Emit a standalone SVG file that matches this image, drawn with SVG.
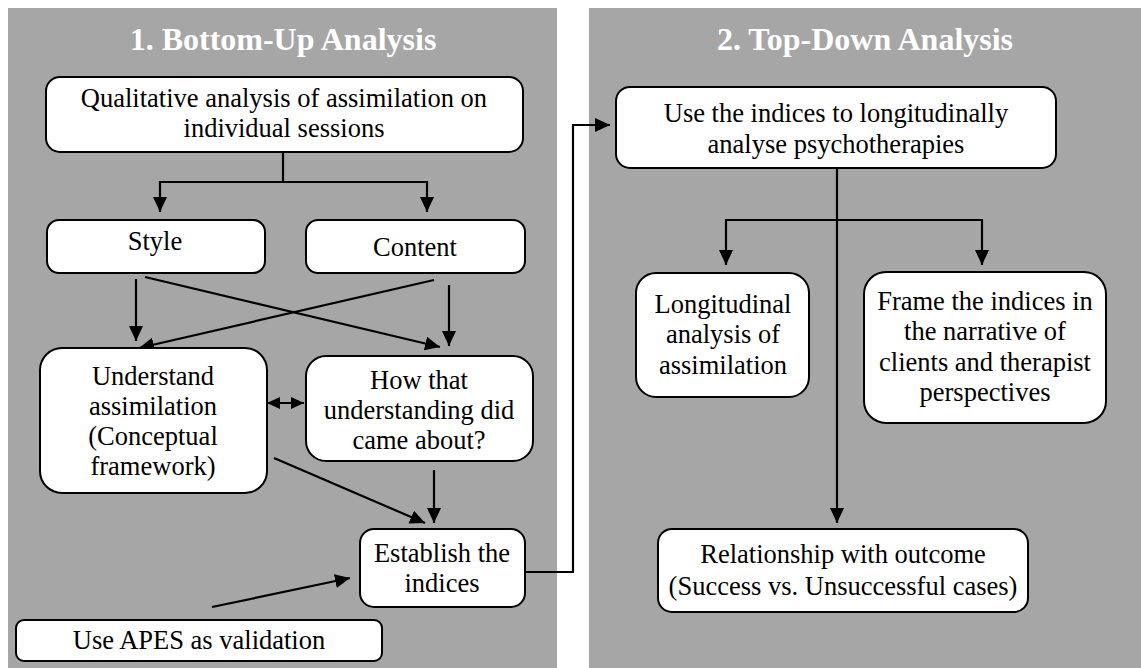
<svg xmlns="http://www.w3.org/2000/svg" width="1141" height="668" viewBox="0 0 1141 668">
  <style>
    .panel { fill: #a6a6a6; }
    .title { font-family: "Liberation Serif", "Times New Roman", serif; font-weight: bold; font-size: 32px; fill: #ffffff; text-anchor: middle; }
    .box { fill: #ffffff; stroke: #000000; stroke-width: 2; }
    .lbl { font-family: "Liberation Serif", "Times New Roman", serif; font-size: 26.5px; fill: #000000; text-anchor: middle; }
    .con { fill: none; stroke: #000000; stroke-width: 2.2; }
  </style>
  <defs>
    <marker id="arr" markerUnits="userSpaceOnUse" markerWidth="15" markerHeight="14" viewBox="0 0 15 14" refX="15" refY="7" orient="auto">
      <path d="M0,0 L15,7 L0,14 z" fill="#000000"/>
    </marker>
    <marker id="arrS" markerUnits="userSpaceOnUse" markerWidth="13" markerHeight="12" viewBox="0 0 13 12" refX="13" refY="6" orient="auto-start-reverse">
      <path d="M0,0 L13,6 L0,12 z" fill="#000000"/>
    </marker>
  </defs>

  <g id="panels">
    <rect class="panel" x="8" y="8" width="549" height="660"/>
    <rect class="panel" x="589" y="8" width="552" height="660"/>
    <text class="title" x="283" y="50">1. Bottom-Up Analysis</text>
    <text class="title" x="865" y="50">2. Top-Down Analysis</text>
  </g>

  <g id="connectors">
    <polyline class="con" points="283,152 283,182"/>
    <polyline class="con" points="160,182 427,182"/>
    <line class="con" x1="160" y1="181" x2="160" y2="212" marker-end="url(#arr)"/>
    <line class="con" x1="427" y1="181" x2="427" y2="212" marker-end="url(#arr)"/>
    <line class="con" x1="136" y1="279" x2="136" y2="341" marker-end="url(#arr)"/>
    <line class="con" x1="145" y1="277" x2="440" y2="347" marker-end="url(#arr)"/>
    <line class="con" x1="434" y1="280" x2="139" y2="348" marker-end="url(#arr)"/>
    <line class="con" x1="449" y1="285" x2="449" y2="346" marker-end="url(#arr)"/>
    <line class="con" x1="267" y1="403" x2="304" y2="403" marker-start="url(#arrS)" marker-end="url(#arrS)"/>
    <line class="con" x1="274" y1="458" x2="425" y2="523" marker-end="url(#arr)"/>
    <line class="con" x1="434" y1="470" x2="434" y2="523" marker-end="url(#arr)"/>
    <line class="con" x1="212" y1="607" x2="350" y2="578" marker-end="url(#arr)"/>
    <polyline class="con" points="525,572 573,572 573,125 610,125" marker-end="url(#arr)"/>
    <line class="con" x1="837" y1="168" x2="837" y2="523" marker-end="url(#arr)"/>
    <polyline class="con" points="726,220 982,220"/>
    <line class="con" x1="726" y1="219" x2="726" y2="265" marker-end="url(#arr)"/>
    <line class="con" x1="982" y1="219" x2="982" y2="265" marker-end="url(#arr)"/>
  </g>

  <g id="qualitative">
    <rect class="box" x="46" y="77" width="477" height="75" rx="14"/>
    <text class="lbl" x="284" y="107">Qualitative analysis of assimilation on</text>
    <text class="lbl" x="284" y="137">individual sessions</text>
  </g>
  <g id="style">
    <rect class="box" x="47" y="220" width="218" height="53" rx="12"/>
    <text class="lbl" x="155" y="250">Style</text>
  </g>
  <g id="content">
    <rect class="box" x="306" y="220" width="219" height="53" rx="12"/>
    <text class="lbl" x="415" y="256">Content</text>
  </g>
  <g id="understand">
    <rect class="box" x="40" y="348" width="227" height="145" rx="22"/>
    <text class="lbl" x="153" y="385">Understand</text>
    <text class="lbl" x="153" y="415">assimilation</text>
    <text class="lbl" x="153" y="445">(Conceptual</text>
    <text class="lbl" x="153" y="475">framework)</text>
  </g>
  <g id="how">
    <rect class="box" x="306" y="356" width="227" height="105" rx="20"/>
    <text class="lbl" x="419" y="389">How that</text>
    <text class="lbl" x="419" y="419">understanding did</text>
    <text class="lbl" x="419" y="449">came about?</text>
  </g>
  <g id="establish">
    <rect class="box" x="360" y="529" width="165" height="78" rx="14"/>
    <text class="lbl" x="442" y="562">Establish the</text>
    <text class="lbl" x="442" y="592">indices</text>
  </g>
  <g id="apes">
    <rect class="box" x="16" y="620" width="366" height="41" rx="8"/>
    <text class="lbl" x="199" y="649">Use APES as validation</text>
  </g>
  <g id="use-indices">
    <rect class="box" x="616" y="87" width="440" height="81" rx="14"/>
    <text class="lbl" x="836" y="122">Use the indices to longitudinally</text>
    <text class="lbl" x="836" y="153">analyse psychotherapies</text>
  </g>
  <g id="longitudinal">
    <rect class="box" x="636" y="273" width="173" height="124" rx="20"/>
    <text class="lbl" x="723" y="313">Longitudinal</text>
    <text class="lbl" x="723" y="343">analysis of</text>
    <text class="lbl" x="723" y="374">assimilation</text>
  </g>
  <g id="frame">
    <rect class="box" x="864" y="272" width="242" height="151" rx="22"/>
    <text class="lbl" x="985" y="310">Frame the indices in</text>
    <text class="lbl" x="985" y="340">the narrative of</text>
    <text class="lbl" x="985" y="371">clients and therapist</text>
    <text class="lbl" x="985" y="401">perspectives</text>
  </g>
  <g id="relationship">
    <rect class="box" x="658" y="529" width="370" height="83" rx="14"/>
    <text class="lbl" x="843" y="563">Relationship with outcome</text>
    <text class="lbl" x="843" y="595">(Success vs. Unsuccessful cases)</text>
  </g>
</svg>
